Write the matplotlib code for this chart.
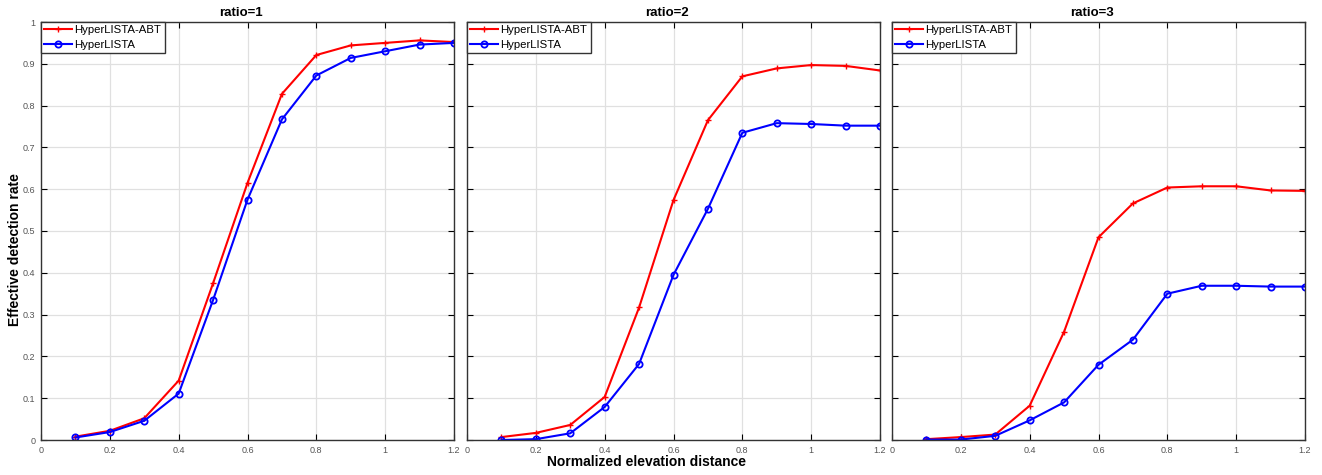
import matplotlib
matplotlib.use('Agg')
import matplotlib.pyplot as plt

plt.rcParams['font.family'] = ['Liberation Sans', 'DejaVu Sans']

x = [0.1, 0.2, 0.3, 0.4, 0.5, 0.6, 0.7, 0.8, 0.9, 1.0, 1.1, 1.2]

titles = ['ratio=1', 'ratio=2', 'ratio=3']
abt = [
    [0.008, 0.022, 0.052, 0.142, 0.375, 0.615, 0.828, 0.921, 0.944, 0.950, 0.956, 0.952],
    [0.007, 0.017, 0.036, 0.103, 0.317, 0.574, 0.765, 0.870, 0.889, 0.897, 0.895, 0.884],
    [0.002, 0.007, 0.013, 0.082, 0.259, 0.485, 0.566, 0.604, 0.607, 0.607, 0.597, 0.596],
]
hyper = [
    [0.006, 0.019, 0.046, 0.111, 0.335, 0.575, 0.767, 0.872, 0.914, 0.930, 0.946, 0.950],
    [0.000, 0.002, 0.016, 0.079, 0.182, 0.395, 0.553, 0.735, 0.758, 0.756, 0.752, 0.752],
    [0.001, 0.001, 0.010, 0.047, 0.090, 0.180, 0.240, 0.350, 0.369, 0.369, 0.367, 0.367],
]

xticks = [0, 0.2, 0.4, 0.6, 0.8, 1, 1.2]
xticklabels = ['0', '0.2', '0.4', '0.6', '0.8', '1', '1.2']
yticks = [0, 0.1, 0.2, 0.3, 0.4, 0.5, 0.6, 0.7, 0.8, 0.9, 1]
yticklabels = ['0', '0.1', '0.2', '0.3', '0.4', '0.5', '0.6', '0.7', '0.8', '0.9', '1']

fig = plt.figure(figsize=(13.22, 4.75), dpi=100)
lefts = [41, 467, 892]
for i in range(3):
    ax = fig.add_axes([lefts[i] / 1322, 1 - 440 / 475, 413 / 1322, 418 / 475])
    ax.plot(x, abt[i], color='red', marker='+', markersize=5, linewidth=1.5,
            label='HyperLISTA-ABT')
    ax.plot(x, hyper[i], color='blue', marker='o', markersize=4.5, markerfacecolor='none',
            markeredgewidth=1.3, linewidth=1.5, label='HyperLISTA')
    ax.set_xlim(0, 1.2)
    ax.set_ylim(0, 1)
    ax.set_xticks(xticks)
    ax.set_xticklabels(xticklabels)
    ax.set_yticks(yticks)
    if i == 0:
        ax.set_yticklabels(yticklabels)
    else:
        ax.set_yticklabels([])
    ax.tick_params(direction='in', top=True, right=True, labelsize=6.5,
                   labelcolor='#555555', length=4, width=0.8, pad=4)
    ax.grid(True, color='#e0e0e0', linewidth=0.9)
    ax.set_axisbelow(True)
    for s in ax.spines.values():
        s.set_color('#333333')
        s.set_linewidth(1.0)
    ax.set_title(titles[i], fontsize=9.5, fontweight='bold', pad=4, x=0.485)
    leg = ax.legend(loc='upper left', fontsize=8.2, fancybox=False, framealpha=1,
                    edgecolor='#333333', borderaxespad=0.0, borderpad=0.3,
                    handlelength=2.4, handletextpad=0.25, labelspacing=0.4)
    leg.get_frame().set_linewidth(1.0)

fig.text(0.489, 0.027, 'Normalized elevation distance', ha='center', va='center',
         fontsize=10, fontweight='bold')
fig.text(0.011, 0.474, 'Effective detection rate', ha='center', va='center',
         rotation=90, fontsize=10, fontweight='bold')

fig.savefig('out.png', dpi=100)
